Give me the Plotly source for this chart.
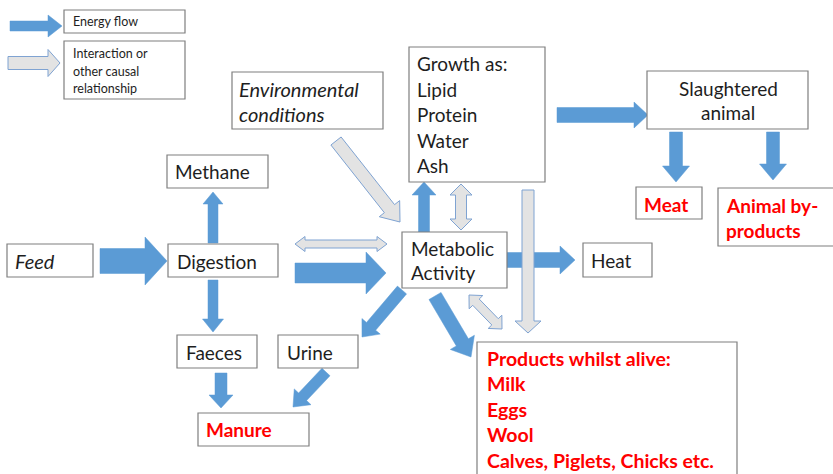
import math
import plotly.graph_objects as go

# ---- text content (data) ----
legend_labels = ["Energy flow", "Interaction or<br>other causal<br>relationship"]
feed_label = ["Feed"]
digestion_label = ["Digestion"]
methane_label = ["Methane"]
faeces_label = ["Faeces"]
urine_label = ["Urine"]
manure_label = ["Manure"]
environment_label = ["Environmental", "conditions"]
growth_label = ["Growth as:", "Lipid", "Protein", "Water", "Ash"]
metabolic_label = ["Metabolic", "Activity"]
heat_label = ["Heat"]
slaughter_label = ["Slaughtered", "animal"]
meat_label = ["Meat"]
byproducts_label = ["Animal by-", "products"]
products_label = ["Products whilst alive:", "Milk", "Eggs", "Wool", "Calves, Piglets, Chicks etc."]

W, H = 833, 474
FONT = "Lato"
BLUE = "#5B9BD5"
GRAY_FILL = "#E3E3E3"
GRAY_LINE = "#7FA3D2"
BOX_LINE = "#7F7F7F"
TXT = "#1E1E1E"
RED = "#FF0000"

shapes = []
annotations = []


def box(x0, y0, x1, y1):
    shapes.append(dict(type="rect", xref="x", yref="y", x0=x0, y0=y0, x1=x1, y1=y1,
                       line=dict(color=BOX_LINE, width=1.2), fillcolor="white", layer="above"))


def text_lines(lines, x, ys, size=19, color=TXT, bold=False, italic=False, anchor="left"):
    for t, y in zip(lines, ys):
        s = t
        if bold:
            s = "<b>" + s + "</b>"
        if italic:
            s = "<i>" + s + "</i>"
        annotations.append(dict(x=x, y=y, xref="x", yref="y", text=s, showarrow=False,
                                xanchor=anchor, yanchor="middle",
                                font=dict(family=FONT, size=size, color=color)))


def arrow(x0, y0, x1, y1, w, hw, hl, kind="blue", double=False):
    dx, dy = x1 - x0, y1 - y0
    L = math.hypot(dx, dy)
    ux, uy = dx / L, dy / L
    nx, ny = -uy, ux

    def p(bx, by, a, b):
        return (bx + ux * a + nx * b, by + uy * a + ny * b)

    pts = []
    if double:
        pts += [p(x0, y0, 0, 0), p(x0, y0, hl, hw / 2), p(x0, y0, hl, w / 2)]
    else:
        pts += [p(x0, y0, 0, w / 2)]
    pts += [p(x1, y1, -hl, w / 2), p(x1, y1, -hl, hw / 2), (x1, y1),
            p(x1, y1, -hl, -hw / 2), p(x1, y1, -hl, -w / 2)]
    if double:
        pts += [p(x0, y0, hl, -w / 2), p(x0, y0, hl, -hw / 2)]
    else:
        pts += [p(x0, y0, 0, -w / 2)]
    path = "M " + " L ".join(f"{a:.2f},{b:.2f}" for a, b in pts) + " Z"
    if kind == "blue":
        line = dict(color=BLUE, width=0.5)
        fill = BLUE
    else:
        line = dict(color=GRAY_LINE, width=1)
        fill = GRAY_FILL
    shapes.append(dict(type="path", path=path, xref="x", yref="y",
                       fillcolor=fill, line=line, layer="above"))


# ---- legend ----
arrow(10, 26, 62, 26, 10, 22, 14, "blue")
arrow(8, 63, 60, 63, 13, 27, 12, "gray")
box(64, 10, 185, 33)
box(64, 41, 185, 99)
text_lines([legend_labels[0]], 71, [21], size=12.5)
text_lines(legend_labels[1].split("<br>"), 71, [53, 71, 88], size=12.5)

# ---- arrows ----
arrow(100, 261, 167, 261, 25, 48, 22)                 # feed -> digestion
arrow(213, 243, 213, 192, 10, 20, 12)                 # digestion -> methane
arrow(213, 280, 213, 332, 10, 21, 13)                 # digestion -> faeces
arrow(295, 244, 387, 244, 8, 15, 10, "gray", True)    # digestion <-> metabolic
arrow(295, 273, 386, 273, 20, 42, 20)                 # digestion -> metabolic
arrow(336, 141, 400, 222, 13, 26, 17, "gray")         # environment -> metabolic
arrow(424, 232, 424, 182, 11, 24, 13)                 # metabolic -> growth
arrow(461, 184, 461, 230, 11, 22, 11, "gray", True)   # growth <-> metabolic
arrow(507, 260, 575, 260, 15, 28, 15)                 # metabolic -> heat
arrow(528, 190, 528, 333, 12, 26, 12, "gray")         # growth -> products
arrow(469, 295, 502, 329, 9, 19, 10, "gray", True)    # metabolic <-> products
arrow(435, 296, 471, 357, 14, 28, 17)                 # metabolic -> products
arrow(402, 290, 362, 337, 12, 24, 14)                 # metabolic -> urine
arrow(221, 373, 221, 408, 12, 24, 13)                 # faeces -> manure
arrow(326, 372, 293, 407, 11, 23, 14)                 # urine -> manure
arrow(557, 115, 648, 115, 15, 26, 14)                 # growth -> slaughtered
arrow(676, 132, 676, 182, 13, 27, 16)                 # slaughtered -> meat
arrow(773, 132, 773, 180, 13, 27, 16)                 # slaughtered -> by-products

# ---- boxes ----
box(7, 244, 93, 277)
box(168, 244, 278, 277)
box(167, 155, 268, 188)
box(177, 335, 257, 368)
box(278, 335, 358, 368)
box(198, 413, 309, 446)
box(232, 72, 383, 129)
box(409, 47, 545, 182)
box(402, 232, 507, 288)
box(583, 243, 652, 277)
box(647, 71, 808, 129)
box(636, 187, 702, 219)
box(718, 188, 840, 246)
box(477, 342, 737, 490)

# ---- texts ----
text_lines(feed_label, 13, [261], italic=True, size=20)
text_lines(digestion_label, 175, [261])
text_lines(methane_label, 173, [171])
text_lines(faeces_label, 184, [352])
text_lines(urine_label, 285, [352])
text_lines(manure_label, 204, [429], color=RED, bold=True, size=19)
text_lines(environment_label, 237, [89, 114], italic=True, size=20)
text_lines(growth_label, 415, [63, 89, 114, 140, 165])
text_lines(metabolic_label, 409, [248, 272])
text_lines(heat_label, 589, [260])
text_lines(slaughter_label, 728, [88, 112], anchor="center")
text_lines(meat_label, 642, [204], color=RED, bold=True, size=19)
text_lines(byproducts_label, 724, [205, 230], color=RED, bold=True, size=19)
text_lines(products_label, 485, [358, 383, 409, 434, 460], color=RED, bold=True, size=19.5)

fig = go.Figure()
fig.update_layout(
    width=W, height=H,
    margin=dict(l=0, r=0, t=0, b=0),
    paper_bgcolor="white", plot_bgcolor="white",
    xaxis=dict(range=[0, W], visible=False, fixedrange=True),
    yaxis=dict(range=[H, 0], visible=False, fixedrange=True),
    shapes=shapes, annotations=annotations, showlegend=False,
)
fig.write_html("out.html", config={"displayModeBar": False},
               post_script="document.body.style.margin='0';document.body.style.overflow='hidden';")
